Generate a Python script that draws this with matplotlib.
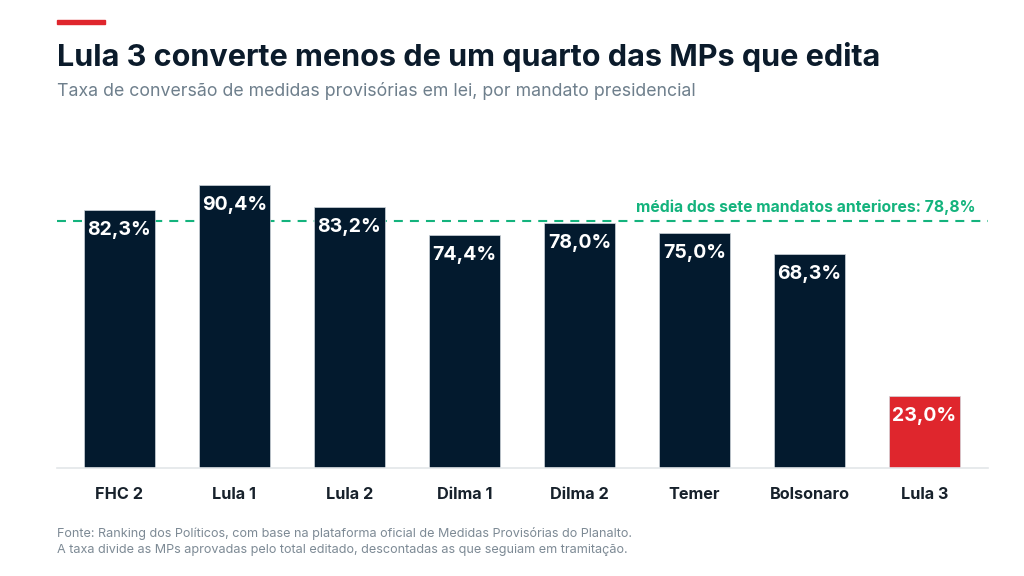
import matplotlib.pyplot as plt
import numpy as np

# dados
mandatos = ["FHC 2", "Lula 1", "Lula 2", "Dilma 1", "Dilma 2", "Temer", "Bolsonaro", "Lula 3"]
taxas = [82.3, 90.4, 83.2, 74.4, 78.0, 75.0, 68.3, 23.0]
media = 78.8

navy = "#031a2e"
red = "#df262d"
green = "#14b37d"
grey = "#6e7f8c"

plt.rcParams['font.family'] = ['Inter', 'DejaVu Sans']

fig = plt.figure(figsize=(10.24, 5.76), dpi=100)
ax = fig.add_axes([57 / 1024, 108 / 576, 931 / 1024, 313.5 / 576])

x = np.arange(len(mandatos))
colors = [navy] * (len(mandatos) - 1) + [red]
bars = ax.bar(x, taxas, width=0.62, color=colors, edgecolor="#d0d6dc", linewidth=0.5, zorder=3)

ax.set_xlim(-0.543, 7.552)
ax.set_ylim(0, 100)

# rótulos dentro das barras
for bar, v in zip(bars, taxas):
    ax.annotate(f"{v:.1f}%".replace(".", ","),
                (bar.get_x() + bar.get_width() / 2, v),
                xytext=(0, -20), textcoords="offset pixels",
                ha="center", va="center", color="white",
                fontsize=14, fontweight="bold", zorder=4)

# linha da média (atrás das barras)
ax.axhline(media, color=green, lw=1.5, ls=(0, (4.3, 3.4)), zorder=2)
ax.annotate(f"média dos sete mandatos anteriores: {media:.1f}%".replace(".", ","),
            (7.44, media), xytext=(0, 14), textcoords="offset pixels",
            ha="right", va="center", color=green, fontsize=11.3, fontweight="bold")

for s in ["top", "right", "left"]:
    ax.spines[s].set_visible(False)
ax.spines["bottom"].set_color("#e3e6e9")
ax.spines["bottom"].set_linewidth(1.2)
ax.spines["bottom"].set_zorder(5)
ax.set_yticks([])
ax.set_xticks(x)
ax.set_xticklabels(mandatos, fontsize=11.7, fontweight="bold", color="#17212b")
ax.tick_params(axis="x", length=0, pad=14)

# cabeçalho
fig.patches.append(plt.Rectangle((57 / 1024, 1 - 24 / 576), 48 / 1024, 4 / 576,
                                 transform=fig.transFigure, color=red))
fig.text(57 / 1024, 1 - 57 / 576, "Lula 3 converte menos de um quarto das MPs que edita",
         fontsize=22, fontweight="bold", color="#0b1b2b", va="center")
fig.text(57 / 1024, 1 - 91 / 576,
         "Taxa de conversão de medidas provisórias em lei, por mandato presidencial",
         fontsize=12.75, color=grey, va="center")

# rodapé
fig.text(57 / 1024, 1 - 533 / 576,
         "Fonte: Ranking dos Políticos, com base na plataforma oficial de Medidas Provisórias do Planalto.",
         fontsize=9.1, color="#7d8a95", va="center")
fig.text(57 / 1024, 1 - 550 / 576,
         "A taxa divide as MPs aprovadas pelo total editado, descontadas as que seguiam em tramitação.",
         fontsize=9.1, color="#7d8a95", va="center")

fig.savefig("out.png", dpi=100)
